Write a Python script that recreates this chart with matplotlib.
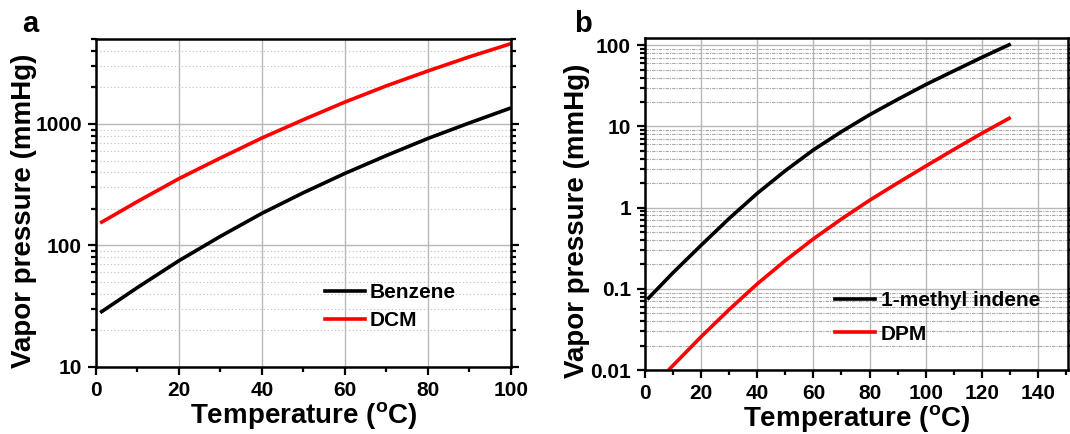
import matplotlib
matplotlib.use('Agg')
import matplotlib.pyplot as plt
from matplotlib.ticker import MultipleLocator, LogLocator, FuncFormatter, NullFormatter
from matplotlib.lines import Line2D

plt.rcParams['font.family'] = ['Liberation Sans', 'DejaVu Sans']
plt.rcParams['font.weight'] = 'bold'
plt.rcParams['mathtext.fontset'] = 'custom'
plt.rcParams['mathtext.rm'] = 'Liberation Sans:bold'
plt.rcParams['mathtext.bf'] = 'Liberation Sans:bold'
plt.rcParams['mathtext.it'] = 'Liberation Sans:bold'

# ---------------- data ----------------
temp_a = [1, 10, 20, 30, 40, 50, 60, 70, 80, 90, 100]
benzene = [28, 45.1, 75, 119, 184, 272, 392, 550, 760, 1020, 1355]
dcm = [153, 230, 355, 525, 767, 1085, 1515, 2060, 2730, 3570, 4580]

temp_b = [0.8, 10, 20, 30, 40, 50, 60, 70, 80, 90, 100, 110, 120, 130.3]
methyl_indene = [0.074, 0.158, 0.344, 0.736, 1.50, 2.85, 5.14, 8.61, 13.9, 21.5, 32.7, 48.2, 70.8, 103.5]
temp_dpm = [8.4, 20, 30, 40, 50, 60, 70, 80, 90, 100, 110, 120, 130.3]
dpm = [0.01, 0.0257, 0.0556, 0.115, 0.223, 0.412, 0.724, 1.23, 2.01, 3.24, 5.19, 8.22, 12.9]

xlabel = r'Temperature ($^{\mathrm{o}}$C)'
ylabel = 'Vapor pressure (mmHg)'

W, H = 1070, 434
fig = plt.figure(figsize=(W / 100, H / 100), dpi=100)


def px_axes(l, t, r, b):
    return [l / W, 1 - b / H, (r - l) / W, (b - t) / H]


axa = fig.add_axes(px_axes(96, 39, 511, 367))
axb = fig.add_axes(px_axes(645, 38.5, 1068, 370))

fmt = FuncFormatter(lambda v, p: f'{v:g}')


def style(ax, minor_ls, minor_color):
    ax.set_yscale('log')
    ax.xaxis.set_major_locator(MultipleLocator(20))
    ax.xaxis.set_minor_locator(MultipleLocator(10))
    ax.yaxis.set_major_locator(LogLocator(base=10))
    ax.yaxis.set_minor_locator(LogLocator(base=10, subs=range(2, 10)))
    ax.yaxis.set_major_formatter(fmt)
    ax.yaxis.set_minor_formatter(NullFormatter())
    ax.xaxis.grid(True, which='major', color='#b8b8b8', lw=1.0, ls='-')
    ax.yaxis.grid(True, which='major', color='#b8b8b8', lw=1.0, ls='-')
    ax.yaxis.grid(True, which='minor', color=minor_color, lw=0.8, ls=minor_ls)
    ax.set_axisbelow(True)
    ax.tick_params(which='both', direction='out', left=True, right=True,
                   top=False, bottom=True, width=1.6, labelsize=15, pad=4)
    ax.tick_params(which='major', length=6)
    ax.tick_params(which='minor', length=3.5)
    for s in ax.spines.values():
        s.set_linewidth(1.8)
    for lab in ax.get_xticklabels() + ax.get_yticklabels():
        lab.set_fontweight('bold')


hl = [Line2D([], [], color='black', lw=2.6), Line2D([], [], color='#ff0000', lw=2.6)]

# ---------------- panel a ----------------
axa.plot(temp_a, benzene, color='black', lw=2.6, solid_capstyle='butt')
axa.plot(temp_a, dcm, color='#ff0000', lw=2.6, solid_capstyle='butt')
axa.set_xlim(0, 100)
axa.set_ylim(10, 5000)
style(axa, (0, (1.2, 2.0)), '#c8c8c8')
axa.set_xlabel(xlabel, fontsize=20, fontweight='bold', labelpad=0)
axa.set_ylabel(ylabel, fontsize=20, fontweight='bold')
axa.yaxis.set_label_coords(-0.142, 0.475)

axa.legend(hl, ['Benzene', 'DCM'], frameon=False, loc='upper left',
           bbox_to_anchor=(325 / W, 1 - 283 / H), bbox_transform=fig.transFigure,
           handlelength=1.9, handletextpad=0.25, borderpad=0,
           borderaxespad=0, labelspacing=0.45, prop={'weight': 'bold', 'size': 15})

# ---------------- panel b ----------------
axb.plot(temp_b, methyl_indene, color='black', lw=2.6, solid_capstyle='butt')
axb.plot(temp_dpm, dpm, color='#ff0000', lw=2.6, solid_capstyle='butt')
axb.set_xlim(0, 150.7)
axb.set_ylim(0.01, 121)
style(axb, (0, (3, 1, 1, 1)), '#a8a8a8')
axb.set_xlabel(xlabel, fontsize=20, fontweight='bold', labelpad=0)
axb.set_ylabel(ylabel, fontsize=20, fontweight='bold')
axb.yaxis.set_label_coords(-0.13, 0.45)

axb.legend(hl, ['1-methyl indene', 'DPM'], frameon=False, loc='upper left',
           bbox_to_anchor=(835 / W, 1 - 291 / H), bbox_transform=fig.transFigure,
           handlelength=1.9, handletextpad=0.3, borderpad=0,
           borderaxespad=0, labelspacing=0.7, prop={'weight': 'bold', 'size': 15})

fig.text(30 / W, 1 - 32 / H, 'a', fontsize=21, fontweight='bold', ha='center', va='baseline')
fig.text(583 / W, 1 - 32 / H, 'b', fontsize=21, fontweight='bold', ha='center', va='baseline')

fig.savefig('out.png', dpi=100)
